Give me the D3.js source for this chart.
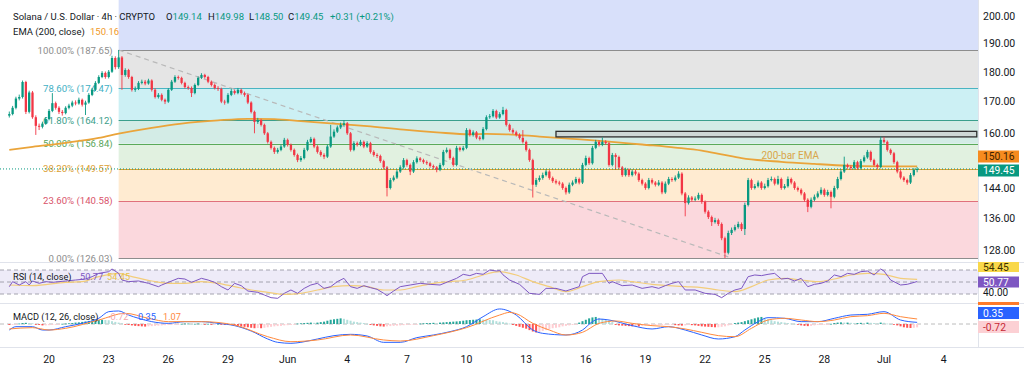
<!DOCTYPE html>
<html><head><meta charset="utf-8">
<script src="https://cdn.jsdelivr.net/npm/d3@7"></script>
<style>body{margin:0;background:#fff;}svg{display:block;font-family:Roboto,"DejaVu Sans",sans-serif;}</style>
</head><body><svg id="c" width="1024" height="371"></svg>
<script>
// ---------------- DATA ----------------
const firstOpen = 165.5;
const closes = [
166.0,168.0,171.0,171.5,176.5,166.7,173.0,165.0,162.3,162.0,
163.0,164.4,167.0,169.5,168.0,166.7,166.3,168.0,168.7,169.7,
169.4,170.6,169.0,169.7,172.2,173.9,176.2,178.2,179.6,178.2,
180.0,184.8,181.6,185.0,178.9,180.6,178.2,173.9,174.2,176.2,
176.6,176.0,177.0,173.9,171.5,172.2,170.6,170.0,173.9,176.6,
178.2,177.9,176.2,174.8,174.5,172.8,175.5,177.9,178.9,178.2,
176.6,175.5,174.5,174.2,170.0,169.7,172.2,173.5,172.8,173.9,
172.8,172.2,169.7,166.7,163.5,164.1,162.6,160.0,157.4,155.6,
154.4,155.0,156.0,158.0,156.5,155.0,153.5,152.0,152.6,155.0,
157.4,158.3,156.0,154.4,153.5,153.0,156.0,159.0,160.5,161.8,
162.6,163.1,160.0,155.0,157.0,156.5,157.4,156.0,157.0,154.4,
153.5,153.2,151.7,149.9,144.1,146.3,147.0,148.7,149.9,152.0,
150.6,148.7,151.4,152.5,152.0,151.4,151.1,150.3,149.9,149.2,
150.6,154.4,155.0,152.6,150.6,155.6,155.0,155.6,161.0,159.5,
160.3,158.7,158.3,161.3,165.0,165.3,167.0,164.9,166.0,167.3,
162.6,161.0,160.3,159.5,158.6,157.4,155.0,152.0,145.0,146.3,
146.9,147.7,148.7,146.9,146.0,145.6,145.3,144.1,142.9,145.0,
145.6,146.6,145.6,150.6,152.6,151.1,155.6,157.4,156.5,157.4,
157.0,150.6,153.5,152.9,149.9,147.7,149.2,147.7,148.7,148.1,
146.3,145.3,144.1,146.3,145.6,145.0,145.6,142.9,145.3,146.6,
146.3,147.0,148.1,142.6,140.0,141.5,140.9,141.2,142.2,140.3,
137.7,136.3,135.0,135.5,134.5,130.9,127.3,132.2,133.0,133.7,
134.5,133.2,139.5,146.3,144.1,144.6,145.6,144.1,144.6,146.3,
146.6,145.3,146.6,144.1,144.6,146.6,145.6,144.1,143.6,142.6,
140.9,139.0,140.9,141.7,142.6,143.6,142.2,143.0,141.7,144.1,
146.6,148.7,150.6,150.0,149.7,151.4,149.7,151.7,152.8,154.4,
152.0,150.6,150.0,158.0,157.4,155.0,154.0,151.4,148.7,147.0,
146.3,145.6,147.7,149.14,149.45];
const highs = [
166.8,168.6,171.6,172.3,177.0,176.9,173.6,173.5,165.6,163.0,
163.6,165.0,167.6,172.8,170.0,168.5,167.3,168.5,169.3,170.3,
170.4,171.3,171.0,170.3,172.8,174.5,176.8,178.8,180.2,180.1,
180.6,185.6,185.4,187.65,185.5,181.2,181.0,178.6,175.0,176.8,
177.3,177.2,177.6,177.4,174.4,172.8,172.7,171.0,174.4,177.2,
178.8,178.7,178.3,176.6,175.3,175.0,176.0,178.4,179.5,179.3,
178.6,177.0,176.0,175.1,174.6,170.6,172.8,174.3,174.0,174.5,
174.3,173.3,172.6,170.1,167.1,164.8,164.5,163.0,160.4,157.8,
156.0,155.6,156.6,158.6,158.4,156.9,155.4,153.9,153.2,155.6,
158.0,158.9,158.7,156.4,154.9,154.0,156.6,162.6,161.2,162.4,
163.3,164.1,163.5,160.4,157.6,157.5,158.0,157.8,157.6,157.4,
154.9,154.0,153.6,152.1,150.3,146.9,147.6,149.3,150.5,152.6,
152.4,151.0,152.0,153.1,152.9,152.4,151.9,151.5,150.7,150.3,
151.2,155.0,155.7,155.4,153.0,156.2,156.0,156.2,161.6,161.4,
160.9,160.7,159.2,161.9,165.6,166.0,167.6,167.4,166.6,168.3,
167.7,163.0,161.5,160.8,160.0,161.0,157.8,155.4,152.4,146.9,
147.6,148.4,149.3,149.1,147.3,146.5,146.1,145.7,144.5,145.6,
146.2,147.2,147.0,151.2,153.3,153.0,156.2,158.0,157.9,158.7,
157.9,157.4,154.1,154.0,153.3,150.3,149.8,149.6,149.3,149.2,
148.5,146.7,145.7,146.9,146.8,146.0,146.3,146.0,145.9,147.2,
147.1,147.6,148.8,148.5,143.0,142.1,141.9,141.8,142.8,142.6,
140.7,138.1,136.7,136.1,135.9,134.9,131.3,132.8,133.6,134.3,
135.1,134.9,140.1,146.9,146.7,145.2,146.2,146.0,145.3,146.9,
147.3,147.0,147.5,147.0,145.2,147.3,147.0,146.0,144.5,144.0,
143.0,141.3,141.5,142.3,143.2,144.3,144.0,143.6,143.4,144.7,
147.2,149.3,153.0,151.0,150.5,152.0,151.8,152.3,153.4,155.0,
154.8,152.4,151.0,159.0,158.8,157.8,155.4,154.4,151.8,149.1,
147.4,146.7,148.3,149.7,149.98];
const lows = [
164.9,165.6,167.5,170.4,171.0,166.0,166.2,164.5,159.5,161.0,
161.5,162.6,164.0,166.6,167.4,166.0,165.5,165.9,167.5,168.2,
168.8,169.0,168.4,165.7,169.3,171.8,173.5,175.8,177.8,177.6,
177.7,179.6,180.8,181.0,173.9,178.3,177.6,173.3,173.2,173.8,
175.7,175.4,175.6,173.3,171.0,171.0,170.1,169.2,169.6,173.5,
176.2,177.3,175.7,174.3,173.9,171.5,172.4,175.1,177.5,177.7,
176.1,175.0,174.0,173.5,169.5,169.0,169.3,171.8,172.3,172.4,
172.3,171.6,169.2,166.2,160.0,162.9,162.1,159.5,156.9,155.1,
153.8,153.9,154.6,155.6,156.0,154.5,153.0,151.4,151.5,152.2,
154.6,157.0,155.5,153.9,153.0,152.3,152.6,155.6,158.6,160.1,
161.3,162.2,159.5,154.5,154.6,156.0,156.1,155.5,155.6,153.9,
153.0,152.6,151.2,149.4,141.8,143.7,145.9,146.6,148.3,149.5,
150.1,147.7,148.3,151.0,151.5,150.9,150.6,149.8,149.4,148.5,
148.8,150.2,154.0,152.1,150.1,150.2,154.5,154.6,155.2,159.0,
159.0,158.2,157.8,157.9,160.9,164.5,164.9,164.4,164.5,165.6,
162.1,160.5,159.8,159.0,158.1,156.9,154.5,151.5,141.5,144.4,
145.8,146.4,147.3,146.4,145.5,145.1,144.8,143.6,142.3,142.5,
144.6,145.2,145.1,145.2,150.2,150.6,150.7,155.2,156.0,156.1,
156.5,150.1,150.2,149.2,149.4,147.2,147.3,147.2,147.3,147.6,
145.8,144.8,143.6,143.7,145.1,144.5,144.6,142.4,142.5,144.9,
145.8,145.9,146.6,142.1,136.5,139.6,140.4,140.5,140.8,139.8,
137.2,135.8,134.0,134.6,134.0,130.4,126.03,126.9,131.7,132.6,
133.3,132.7,131.7,139.1,143.6,143.7,144.2,143.6,143.7,144.2,
145.9,144.8,144.9,143.6,143.7,144.2,145.1,143.6,143.1,142.1,
140.4,137.6,138.6,140.5,141.3,142.2,141.7,141.8,138.6,141.3,
143.7,146.2,148.3,149.5,149.2,149.3,149.2,149.3,151.3,152.4,
151.5,150.1,149.4,149.6,156.9,154.5,153.5,150.9,148.2,146.5,
145.8,145.0,145.2,147.3,148.50];

const emaIdx = [0,7,17,27,33,43,52,63,72,80,88,98,108,119,129,139,144,150,160,170,181,191,201,209,215,221,233,243,253,263,274];
const emaVal = [155.0,155.9,157.1,158.6,159.9,161.7,163.0,164.0,164.5,164.4,163.8,163.0,162.2,161.1,160.3,159.7,159.8,159.7,159.0,158.3,157.5,156.6,155.7,154.8,153.7,152.6,151.5,150.9,150.4,150.2,150.16];

const rsiIdx = [0,1,3,5,6,7,9,11,13,17,20,23,25,27,30,31,33,34,36,39,42,45,46,49,51,53,55,58,60,62,64,66,68,70,72,75,77,79,81,83,85,87,89,91,93,95,97,99,101,103,105,107,109,111,113,114,116,118,121,124,127,130,133,135,137,139,141,143,145,147,148,149,151,154,157,160,162,165,168,172,173,175,178,179,181,182,185,188,191,194,196,198,200,202,204,207,210,213,215,217,219,221,223,225,227,229,231,233,235,237,239,241,243,245,247,249,251,253,255,257,259,261,263,264,266,269,271,274];
const rsiVal = [42.2,50.6,45,50.6,45,51.7,47.8,50.6,49.4,51.7,53.3,55,58.9,64.4,67.2,71.7,64.4,53.3,50.6,51.7,47.8,42.2,45,51.7,56.1,55,49.4,56.1,53.3,49.4,42.2,36.7,47.8,43.9,35,32.8,28.3,23.9,22.8,31.1,36.7,31.1,39.4,45,47.8,39.4,42.2,50.6,56.1,42.2,39.4,43.9,40.6,37.8,31.1,27.2,35,42.2,45,47.8,46.1,45,51.7,56.1,62.8,60.6,64.4,62.8,70,68.3,69,62,53.3,46.1,31.1,29.4,39.4,39.4,35,42.2,58.9,64.4,64.4,64.4,47.8,50.6,43.9,45,39.4,42.2,39.4,43.9,47.8,50.6,36.7,36.7,31.1,29.4,23.9,31.1,36.7,39.4,58.9,61.7,60.6,62.8,64.4,55,56.1,51.7,56.1,42.2,46.1,47.8,51.7,61.7,58.9,64.4,62.8,67.2,68.3,61.7,71.7,68.3,53.3,45,46.1,50.77];
const rsiMaIdx = [0,7,17,22,27,33,37,43,48,53,58,63,68,73,78,83,88,93,98,103,108,113,118,123,128,133,138,143,148,153,158,163,168,173,178,184,188,194,199,204,209,214,219,224,229,234,239,244,249,254,259,264,269,274];
const rsiMaVal = [45,43.9,49.4,50.6,58.9,64.4,58.9,51.7,47.8,47.8,50.6,47.8,42.2,36.7,32.8,29.4,31.1,36.7,42.2,43.9,42.2,36.7,36.7,42.2,47.8,50.6,53.3,61.7,67.2,61.7,50.6,42.2,33.9,42.2,50.6,53.3,50.6,46.1,43.9,42.2,40.6,36.7,33.9,42.2,53.3,56.1,53.3,50.6,55,61.7,64.4,62.8,56.1,54.45];

const macdIdx = [0,2,7,10,12,17,22,27,30,33,36,39,43,48,53,58,63,68,73,78,81,85,88,93,98,103,108,113,118,123,128,133,138,143,148,153,158,161,168,173,176,178,181,188,194,199,204,209,214,219,222,226,229,234,239,244,249,254,259,264,269,274];
const macdVal = [-1.28,-0.57,-0.57,-1.28,-1.28,-0.57,0.14,1.21,2.62,2.77,1.91,1.21,0.5,0.14,0.5,0.5,0.14,-0.35,-1.49,-3.19,-3.9,-4.11,-3.9,-3.19,-2.48,-2.2,-2.55,-3.9,-3.9,-2.9,-2.34,-1.63,-0.57,1.56,3.2,1.91,-1.28,-1.99,-2.34,-1.28,0.5,1.06,0.85,-0.35,-1.06,-0.57,-1.28,-2.34,-3.19,-2.7,-1.28,0.5,1.35,1.21,0.5,0.5,1.21,1.91,2.06,2.62,0.85,0.35];
const sigIdx = [0,7,12,17,27,35,42,48,58,68,78,85,93,103,113,118,128,138,148,151,153,158,163,168,173,178,183,188,194,199,204,209,214,219,224,229,234,239,244,249,254,259,264,269,274];
const sigVal = [-1.06,-0.78,-1.28,-0.92,0.85,2.27,1.21,0.5,0.5,-0.21,-2.7,-3.76,-3.4,-2.34,-3.4,-3.62,-2.48,-0.78,1.91,2.47,2.2,0.14,-1.28,-2.34,-1.77,0.14,0.64,0.14,-0.35,-0.57,-1.06,-1.77,-2.48,-2.7,-0.92,0.85,1.21,0.85,0.5,0.85,1.56,1.77,2.27,1.56,1.07];
const hist = [
-0.2,-0.15,-0.1,0.1,0.2,0.25,0.2,0.15,
-0.1,-0.2,-0.3,-0.3,-0.25,-0.2,-0.15,-0.1,0.05,
0.1,0.15,0.2,0.3,0.35,0.45,0.55,0.65,0.75,0.8,0.85,0.9,0.85,
0.8,0.6,0.45,0.3,0.15,
-0.1,-0.2,-0.3,-0.4,-0.45,-0.5,-0.55,-0.5,-0.45,-0.4,-0.35,-0.3,
-0.25,-0.2,-0.15,-0.1,-0.05,0.05,0.1,0.1,0.05,0.05,0.1,0.05,
-0.05,0.05,-0.1,-0.05,0.05,-0.1,-0.15,-0.1,-0.2,
-0.3,-0.4,-0.5,-0.6,-0.7,-0.8,-0.9,-0.85,-0.9,-0.8,-0.7,
-0.6,-0.5,-0.45,-0.4,-0.3,-0.25,-0.2,-0.1,
0.1,0.15,0.2,0.25,0.3,0.25,0.3,0.4,
0.5,0.7,0.9,1.0,1.1,1.2,1.1,
0.9,0.7,0.5,0.4,0.3,0.2,0.05,
-0.2,-0.3,-0.4,-0.5,-0.55,-0.5,-0.45,
-0.4,-0.35,-0.3,-0.25,-0.2,-0.15,-0.1,-0.05,
0.1,0.15,0.2,0.2,0.25,0.2,0.3,0.35,0.4,0.45,
0.5,0.55,0.6,0.7,0.8,0.85,0.9,0.95,1.0,0.95,0.9,0.85,0.8,
0.6,0.5,0.4,0.3,0.1,
-0.2,-0.4,-0.6,-0.8,-1.0,-1.3,-1.6,-1.8,-1.7,
-1.5,-1.3,-1.1,-0.9,-0.8,-0.7,-0.5,-0.4,-0.3,-0.2,-0.05,
0.3,0.6,0.9,1.2,1.4,1.5,
1.3,1.1,0.9,0.7,0.4,
-0.2,-0.3,-0.35,-0.4,-0.45,-0.5,-0.45,-0.5,-0.4,-0.35,
-0.3,-0.25,-0.2,-0.2,-0.15,-0.15,-0.1,-0.1,
-0.25,-0.3,-0.35,-0.3,-0.2,-0.25,-0.3,-0.4,
-0.5,-0.55,-0.6,-0.65,-0.7,-0.7,-0.6,-0.5,-0.3,-0.1,
0.2,0.3,0.4,0.6,0.8,
1.0,1.2,1.4,1.5,1.3,
1.0,0.8,0.6,0.5,0.4,0.3,0.2,0.1,0.05,-0.1,
-0.3,-0.4,-0.45,-0.4,-0.3,
-0.2,-0.15,-0.1,-0.05,0.05,0.2,
0.3,0.35,0.3,0.3,0.25,0.2,
0.2,0.25,0.2,0.3,0.25,0.2,0.15,0.3,0.25,
0.1,0.0,-0.1,-0.3,
-0.5,-0.7,-0.8,-0.85,-0.8,-0.72];

const fibPct = ["0.00%","23.60%","38.20%","50.00%","61.80%","78.60%","100.00%"];
const fibPrice = [126.03,140.58,149.57,156.84,164.12,174.47,187.65];
const fibStartIdx = 33;
const trendFrom = [33,187.65], trendTo = [217,126.3];
const resistIdx = [165,292], resistPrice = [158.9,160.6];
const emaLabelAt = [227,152.3];
const priceTicks = [200,190,180,170,160,144,136,128];
const rsiTicks = [40];
const dateTicks = ["2025-05-20","2025-05-23","2025-05-26","2025-05-29","2025-06-01","2025-06-04","2025-06-07","2025-06-10","2025-06-13","2025-06-16","2025-06-19","2025-06-22","2025-06-25","2025-06-28","2025-07-01","2025-07-04"];
const dateLabels = ["20","23","26","29","Jun","4","7","10","13","16","19","22","25","28","Jul","4"];
const lastPrice = 149.45, lastEma = 150.16, lastRsi = 50.77, lastRsiMa = 54.45, lastMacd = 0.35, lastSig = 1.07, lastHist = -0.72;

// ---------------- CHECK ----------------
if (closes.length!==275||highs.length!==275||lows.length!==275||hist.length!==275)
  throw new Error("len "+closes.length+" "+highs.length+" "+lows.length+" "+hist.length);
[[emaIdx,emaVal],[rsiIdx,rsiVal],[rsiMaIdx,rsiMaVal],[macdIdx,macdVal],[sigIdx,sigVal]].forEach((p,k)=>{if(p[0].length!==p[1].length) throw new Error("pair "+k+" "+p[0].length+" "+p[1].length);});

// ---------------- SCALES ----------------
const svg = d3.select("#c");
const PR = 978;
const t0 = Date.UTC(2025,4,18,0,0), H4 = 4*3600e3;
const tOf = i => new Date(t0 + i*H4);
const x = d3.scaleUtc().domain([new Date(t0), new Date(Date.UTC(2025,6,1))]).range([9.3,884]);
const xi = i => x(tOf(i));
const y = d3.scaleLog().domain([126.03,187.65]).range([258,50]);
const yR = d3.scaleLinear().domain([30,70]).range([294,270]);
const yM = d3.scaleLinear().domain([-4,3]).range([342.8,309.9]);

const defs = svg.append("defs");
defs.append("clipPath").attr("id","cp").append("rect").attr("x",0).attr("y",0).attr("width",PR).attr("height",262);
defs.append("clipPath").attr("id","cr").append("rect").attr("x",0).attr("y",263).attr("width",PR).attr("height",40);
defs.append("clipPath").attr("id","cm").append("rect").attr("x",0).attr("y",304).attr("width",PR).attr("height",43);

// ---------------- PRICE PANE ----------------
const gp = svg.append("g").attr("clip-path","url(#cp)");
const xL = xi(fibStartIdx);
const bandCols = ["#fbd8dd","#ffebd1","#e1f1e0","#d3ece6","#ccf0f4","#e5e5e5"];
const lineCols = ["#8d8d8d","#e0707c","#d9a12e","#5aaa5a","#3a9f8c","#4ab4c2","#8d8d8d"];
const labCols  = ["#8d8d8d","#d9536a","#dba033","#5aa55a","#3b9e8a","#3fb0c4","#8d8d8d"];
gp.append("rect").attr("x",xL).attr("y",0).attr("width",PR-xL).attr("height",y(fibPrice[6])).attr("fill","#d8e0fa");
for (let k=0;k<6;k++){
  gp.append("rect").attr("x",xL).attr("y",y(fibPrice[k+1])).attr("width",PR-xL)
    .attr("height",y(fibPrice[k])-y(fibPrice[k+1])).attr("fill",bandCols[k]);
}
fibPrice.forEach((p,k)=>{
  gp.append("line").attr("x1",xL).attr("x2",PR).attr("y1",Math.round(y(p))+0.5).attr("y2",Math.round(y(p))+0.5)
    .attr("stroke",lineCols[k]).attr("stroke-width",1);
  gp.append("text").attr("x",xL-6).attr("y",y(p)+3.5).attr("text-anchor","end")
    .attr("font-size",9.6).attr("fill",labCols[k]).text(fibPct[k]+" ("+p.toFixed(2)+")");
});
// trend line
gp.append("line").attr("x1",xi(trendFrom[0])).attr("y1",y(trendFrom[1])).attr("x2",xi(trendTo[0])).attr("y2",y(trendTo[1]))
  .attr("stroke","#b9b9b9").attr("stroke-width",1.2).attr("stroke-dasharray","5,4");
// ema
const emaPts = emaIdx.map((d,k)=>[xi(d),y(emaVal[k])]);
gp.append("path").attr("d",d3.line().curve(d3.curveMonotoneX)(emaPts)).attr("fill","none")
  .attr("stroke","#eaa43a").attr("stroke-width",1.8);
// resistance box
gp.append("rect").attr("x",xi(resistIdx[0])).attr("y",y(resistPrice[1])).attr("width",xi(resistIdx[1])-xi(resistIdx[0]))
  .attr("height",y(resistPrice[0])-y(resistPrice[1])).attr("fill","#c9c9c9").attr("fill-opacity",0.6)
  .attr("stroke","#2f2f2f").attr("stroke-width",1.3);
// last price dotted line
svg.append("line").attr("x1",0).attr("x2",PR).attr("y1",y(lastPrice)).attr("y2",y(lastPrice))
  .attr("stroke","#089981").attr("stroke-width",1).attr("stroke-dasharray","1,2");
// candles
const up="#089981", dn="#f23645";
const gc = gp.append("g");
closes.forEach((c,i)=>{
  const o = i===0?firstOpen:closes[i-1];
  const col = c>=o?up:dn, cx = xi(i);
  gc.append("line").attr("x1",cx).attr("x2",cx).attr("y1",y(highs[i])).attr("y2",y(lows[i])).attr("stroke",col).attr("stroke-width",0.9);
  const top = y(Math.max(o,c)), bot = y(Math.min(o,c));
  gc.append("rect").attr("x",cx-1.15).attr("y",top).attr("width",2.3).attr("height",Math.max(0.8,bot-top)).attr("fill",col);
});
gp.append("text").attr("x",xi(emaLabelAt[0])).attr("y",y(emaLabelAt[1])).attr("font-size",10)
  .attr("fill","#d9a54a").text("200-bar EMA");

// ---------------- RSI PANE ----------------
const gr = svg.append("g").attr("clip-path","url(#cr)");
gr.append("rect").attr("x",0).attr("y",yR(70)).attr("width",PR).attr("height",yR(30)-yR(70)).attr("fill","#eeebf8");
[70,50,30].forEach(v=>gr.append("line").attr("x1",0).attr("x2",PR).attr("y1",yR(v)).attr("y2",yR(v))
  .attr("stroke","#9a9aa6").attr("stroke-width",0.9).attr("stroke-dasharray","4,3"));
gr.append("path").attr("d",d3.line().curve(d3.curveMonotoneX)(rsiMaIdx.map((d,k)=>[xi(d),yR(rsiMaVal[k])])))
  .attr("fill","none").attr("stroke","#f3cd7a").attr("stroke-width",1.2);
gr.append("path").attr("d",d3.line()(rsiIdx.map((d,k)=>[xi(d),yR(rsiVal[k])])))
  .attr("fill","none").attr("stroke","#7e57c2").attr("stroke-width",1);

// ---------------- MACD PANE ----------------
const gm = svg.append("g").attr("clip-path","url(#cm)");
gm.append("line").attr("x1",0).attr("x2",PR).attr("y1",yM(0)).attr("y2",yM(0)).attr("stroke","#b4b4b4").attr("stroke-width",0.9).attr("stroke-dasharray","4,3");
hist.forEach((h,i)=>{
  const p = i===0?0:hist[i-1];
  const col = h>=0 ? (h>=p?"#26a69a":"#b2dfdb") : (h<p?"#ff5252":"#ffcdd2");
  const y0=yM(0), y1=yM(h);
  gm.append("rect").attr("x",xi(i)-1).attr("y",Math.min(y0,y1)).attr("width",2).attr("height",Math.max(0.8,Math.abs(y1-y0))).attr("fill",col);
});
gm.append("path").attr("d",d3.line().curve(d3.curveMonotoneX)(macdIdx.map((d,k)=>[xi(d),yM(macdVal[k])])))
  .attr("fill","none").attr("stroke","#2962ff").attr("stroke-width",1);
gm.append("path").attr("d",d3.line().curve(d3.curveMonotoneX)(sigIdx.map((d,k)=>[xi(d),yM(sigVal[k])])))
  .attr("fill","none").attr("stroke","#ff8a3d").attr("stroke-width",1);

// ---------------- FRAME ----------------
[262.5,303.5,347.5].forEach(v=>svg.append("line").attr("x1",0).attr("x2",1024).attr("y1",v).attr("y2",v).attr("stroke","#e0e3eb"));
svg.append("line").attr("x1",PR+0.5).attr("x2",PR+0.5).attr("y1",0).attr("y2",347).attr("stroke","#e0e3eb");

// right axis
priceTicks.forEach(v=>svg.append("text").attr("x",983).attr("y",y(v)+3.8).attr("font-size",10.5).attr("fill","#131722").text(v.toFixed(2)));
rsiTicks.forEach(v=>svg.append("text").attr("x",983).attr("y",yR(v)+8).attr("font-size",10).attr("fill","#131722").text(v.toFixed(2)));
function box(yc,bg,fg,txt,h){
  h=h||12;
  svg.append("rect").attr("x",978).attr("y",yc-h/2).attr("width",41).attr("height",h).attr("fill",bg);
  svg.append("text").attr("x",983).attr("y",yc+3.6).attr("font-size",10.3).attr("fill",fg).text(txt);
}
box(156.5,"#f68b1f","#3d1f00",lastEma.toFixed(2));
box(170.5,"#089981","#ffffff",lastPrice.toFixed(2));
box(267,"#f9d84a","#3a3000",lastRsiMa.toFixed(2),10);
box(282,"#7e57c2","#ffffff",lastRsi.toFixed(2),11);
svg.append("rect").attr("x",978).attr("y",302).attr("width",41).attr("height",3).attr("fill","#ff7a2a");
box(313,"#2962ff","#ffffff",lastMacd.toFixed(2));
box(327,"#fcd0d4","#c62835",lastHist.toFixed(2));

// x axis
dateTicks.forEach((d,k)=>svg.append("text").attr("x",x(new Date(d+"T00:00:00Z"))).attr("y",363).attr("text-anchor","middle")
  .attr("font-size",10.5).attr("fill","#131722").text(dateLabels[k]));

// ---------------- LEGENDS ----------------
const FS = 9.5;
svg.append("text").attr("x",13).attr("y",19.5).attr("font-size",FS).attr("fill","#131722").text("Solana / U.S. Dollar · 4h · CRYPTO");
const ohlc = [["O","149.14",166],["H","149.98",208],["L","148.50",249],["C","149.45",288]];
ohlc.forEach(a=>{const t=svg.append("text").attr("x",a[2]).attr("y",19.5).attr("font-size",FS).attr("fill","#131722");
  t.append("tspan").text(a[0]); t.append("tspan").attr("fill","#089981").text(a[1]);});
svg.append("text").attr("x",330).attr("y",19.5).attr("font-size",FS).attr("fill","#089981").text("+0.31 (+0.21%)");
svg.append("text").attr("x",13).attr("y",34.5).attr("font-size",FS).attr("fill","#131722").text("EMA (200, close)");
svg.append("text").attr("x",90).attr("y",34.5).attr("font-size",FS).attr("fill","#f09a2a").text(lastEma.toFixed(2));

svg.append("text").attr("x",13).attr("y",280).attr("font-size",9.2).attr("fill","#131722").text("RSI (14, close)");
svg.append("text").attr("x",80).attr("y",280).attr("font-size",9.2).attr("fill","#7e57c2").text(lastRsi.toFixed(2));
svg.append("text").attr("x",107).attr("y",280).attr("font-size",9.2).attr("fill","#e8c24a").text(lastRsiMa.toFixed(2));
svg.append("text").attr("x",13).attr("y",320).attr("font-size",9.2).attr("fill","#131722").text("MACD (12, 26, close)");
svg.append("text").attr("x",108).attr("y",320).attr("font-size",9.2).attr("fill","#f3a6ae").text(lastHist.toFixed(2));
svg.append("text").attr("x",138).attr("y",320).attr("font-size",9.2).attr("fill","#2962ff").text(lastMacd.toFixed(2));
svg.append("text").attr("x",163).attr("y",320).attr("font-size",9.2).attr("fill","#ff8a3d").text(lastSig.toFixed(2));
</script></body></html>
